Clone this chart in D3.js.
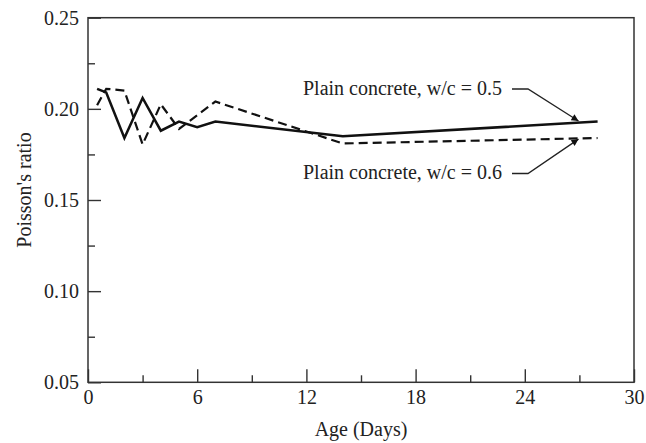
<!DOCTYPE html>
<html>
<head>
<meta charset="utf-8">
<script src="https://cdn.jsdelivr.net/npm/d3@7"></script>
<style>
  html, body { margin: 0; padding: 0; background: #fff; }
  svg text { font-family: 'Liberation Serif', 'DejaVu Serif', serif; fill: #222; }
</style>
</head>
<body>
<div id="chart"></div>
<script>
// data
const days05 = [0.5, 1, 2, 3, 4, 5, 6, 7, 14, 28]
const ratio05 = [0.211, 0.209, 0.184, 0.206, 0.188, 0.193, 0.190, 0.193, 0.185, 0.193]
const days06 = [0.5, 1, 2, 3, 4, 5, 7, 14, 28]
const ratio06 = [0.202, 0.211, 0.210, 0.1805, 0.2025, 0.189, 0.204, 0.181, 0.184]
const xTicks = [0, 6, 12, 18, 24, 30]
const yTicks = [0.05, 0.10, 0.15, 0.20, 0.25]
const labels = ['Plain concrete, w/c = 0.5', 'Plain concrete, w/c = 0.6']

const width = 646
const height = 443
const margin = { top: 17.7, right: 12, bottom: 60.7, left: 88 }
const fontSize = 20

const x = d3.scaleLinear().domain([0, 30]).range([margin.left, width - margin.right])
const y = d3.scaleLinear().domain([0.05, 0.25]).range([height - margin.bottom, margin.top])

const svg = d3
  .select('#chart')
  .append('svg')
  .attr('width', width)
  .attr('height', height)

svg
  .append('defs')
  .append('marker')
  .attr('id', 'arrow')
  .attr('viewBox', '0 0 10 10')
  .attr('refX', 10)
  .attr('refY', 5)
  .attr('markerWidth', 12)
  .attr('markerHeight', 7)
  .attr('markerUnits', 'userSpaceOnUse')
  .attr('orient', 'auto')
  .append('path')
  .attr('d', 'M0,0 L10,5 L0,10 Z')
  .attr('fill', '#111')

// frame
svg
  .append('rect')
  .attr('x', x(0))
  .attr('y', y(0.25))
  .attr('width', x(30) - x(0))
  .attr('height', y(0.05) - y(0.25))
  .attr('fill', 'none')
  .attr('stroke', '#333')
  .attr('stroke-width', 1.5)

function styleAxis(g) {
  g.select('.domain').remove()
  g.selectAll('line').attr('stroke', '#333').attr('stroke-width', 1.4)
  g.selectAll('text')
    .attr('font-family', "'Liberation Serif', serif")
    .attr('font-size', fontSize)
    .attr('fill', '#222')
}

// x axis, ticks inward
svg.append('g')
  .attr('transform', `translate(0,${y(0.05)})`)
  .call(d3.axisBottom(x).tickValues(xTicks).tickSize(-13).tickPadding(8).tickFormat(d3.format('d')))
  .call(styleAxis)
svg.append('g')
  .attr('transform', `translate(0,${y(0.05)})`)
  .call(d3.axisBottom(x).tickValues(d3.range(3, 30, 6)).tickSize(-7).tickFormat(''))
  .call(styleAxis)

// y axis, ticks inward
svg.append('g')
  .attr('transform', `translate(${x(0)},0)`)
  .call(d3.axisLeft(y).tickValues(yTicks).tickSize(-13).tickPadding(9).tickFormat(d3.format('.2f')))
  .call(styleAxis)
svg.append('g')
  .attr('transform', `translate(${x(0)},0)`)
  .call(d3.axisLeft(y).tickValues([0.075, 0.125, 0.175, 0.225]).tickSize(-7).tickFormat(''))
  .call(styleAxis)

// axis titles
svg.append('text')
  .attr('x', (x(0) + x(30)) / 2)
  .attr('y', 436)
  .attr('text-anchor', 'middle')
  .attr('font-size', fontSize)
  .text('Age (Days)')

svg.append('text')
  .attr('transform', `translate(31,${(y(0.05) + y(0.25)) / 2 - 10}) rotate(-90)`)
  .attr('text-anchor', 'middle')
  .attr('font-size', fontSize)
  .text("Poisson's ratio")

// lines
const line = d3.line().x(d => x(d[0])).y(d => y(d[1]))

svg.append('path')
  .datum(d3.zip(days05, ratio05))
  .attr('d', line)
  .attr('fill', 'none')
  .attr('stroke', '#111')
  .attr('stroke-width', 2.5)
  .attr('stroke-linejoin', 'miter')

svg.append('path')
  .datum(d3.zip(days06, ratio06))
  .attr('d', line)
  .attr('fill', 'none')
  .attr('stroke', '#111')
  .attr('stroke-width', 2.2)
  .attr('stroke-dasharray', '9,5')

// annotations
const notes = [
  { text: labels[0], tx: 303, ty: 95, ly: 89, tip: [26.95, 0.1933] },
  { text: labels[1], tx: 303, ty: 179, ly: 173.5, tip: [26.95, 0.1834] }
]

notes.forEach(n => {
  svg.append('text')
    .attr('x', n.tx)
    .attr('y', n.ty)
    .attr('font-size', fontSize)
    .text(n.text)
  svg.append('path')
    .attr('d', `M512,${n.ly} L528,${n.ly} L${x(n.tip[0])},${y(n.tip[1])}`)
    .attr('fill', 'none')
    .attr('stroke', '#222')
    .attr('stroke-width', 1.3)
    .attr('marker-end', 'url(#arrow)')
})
</script>
</body>
</html>
